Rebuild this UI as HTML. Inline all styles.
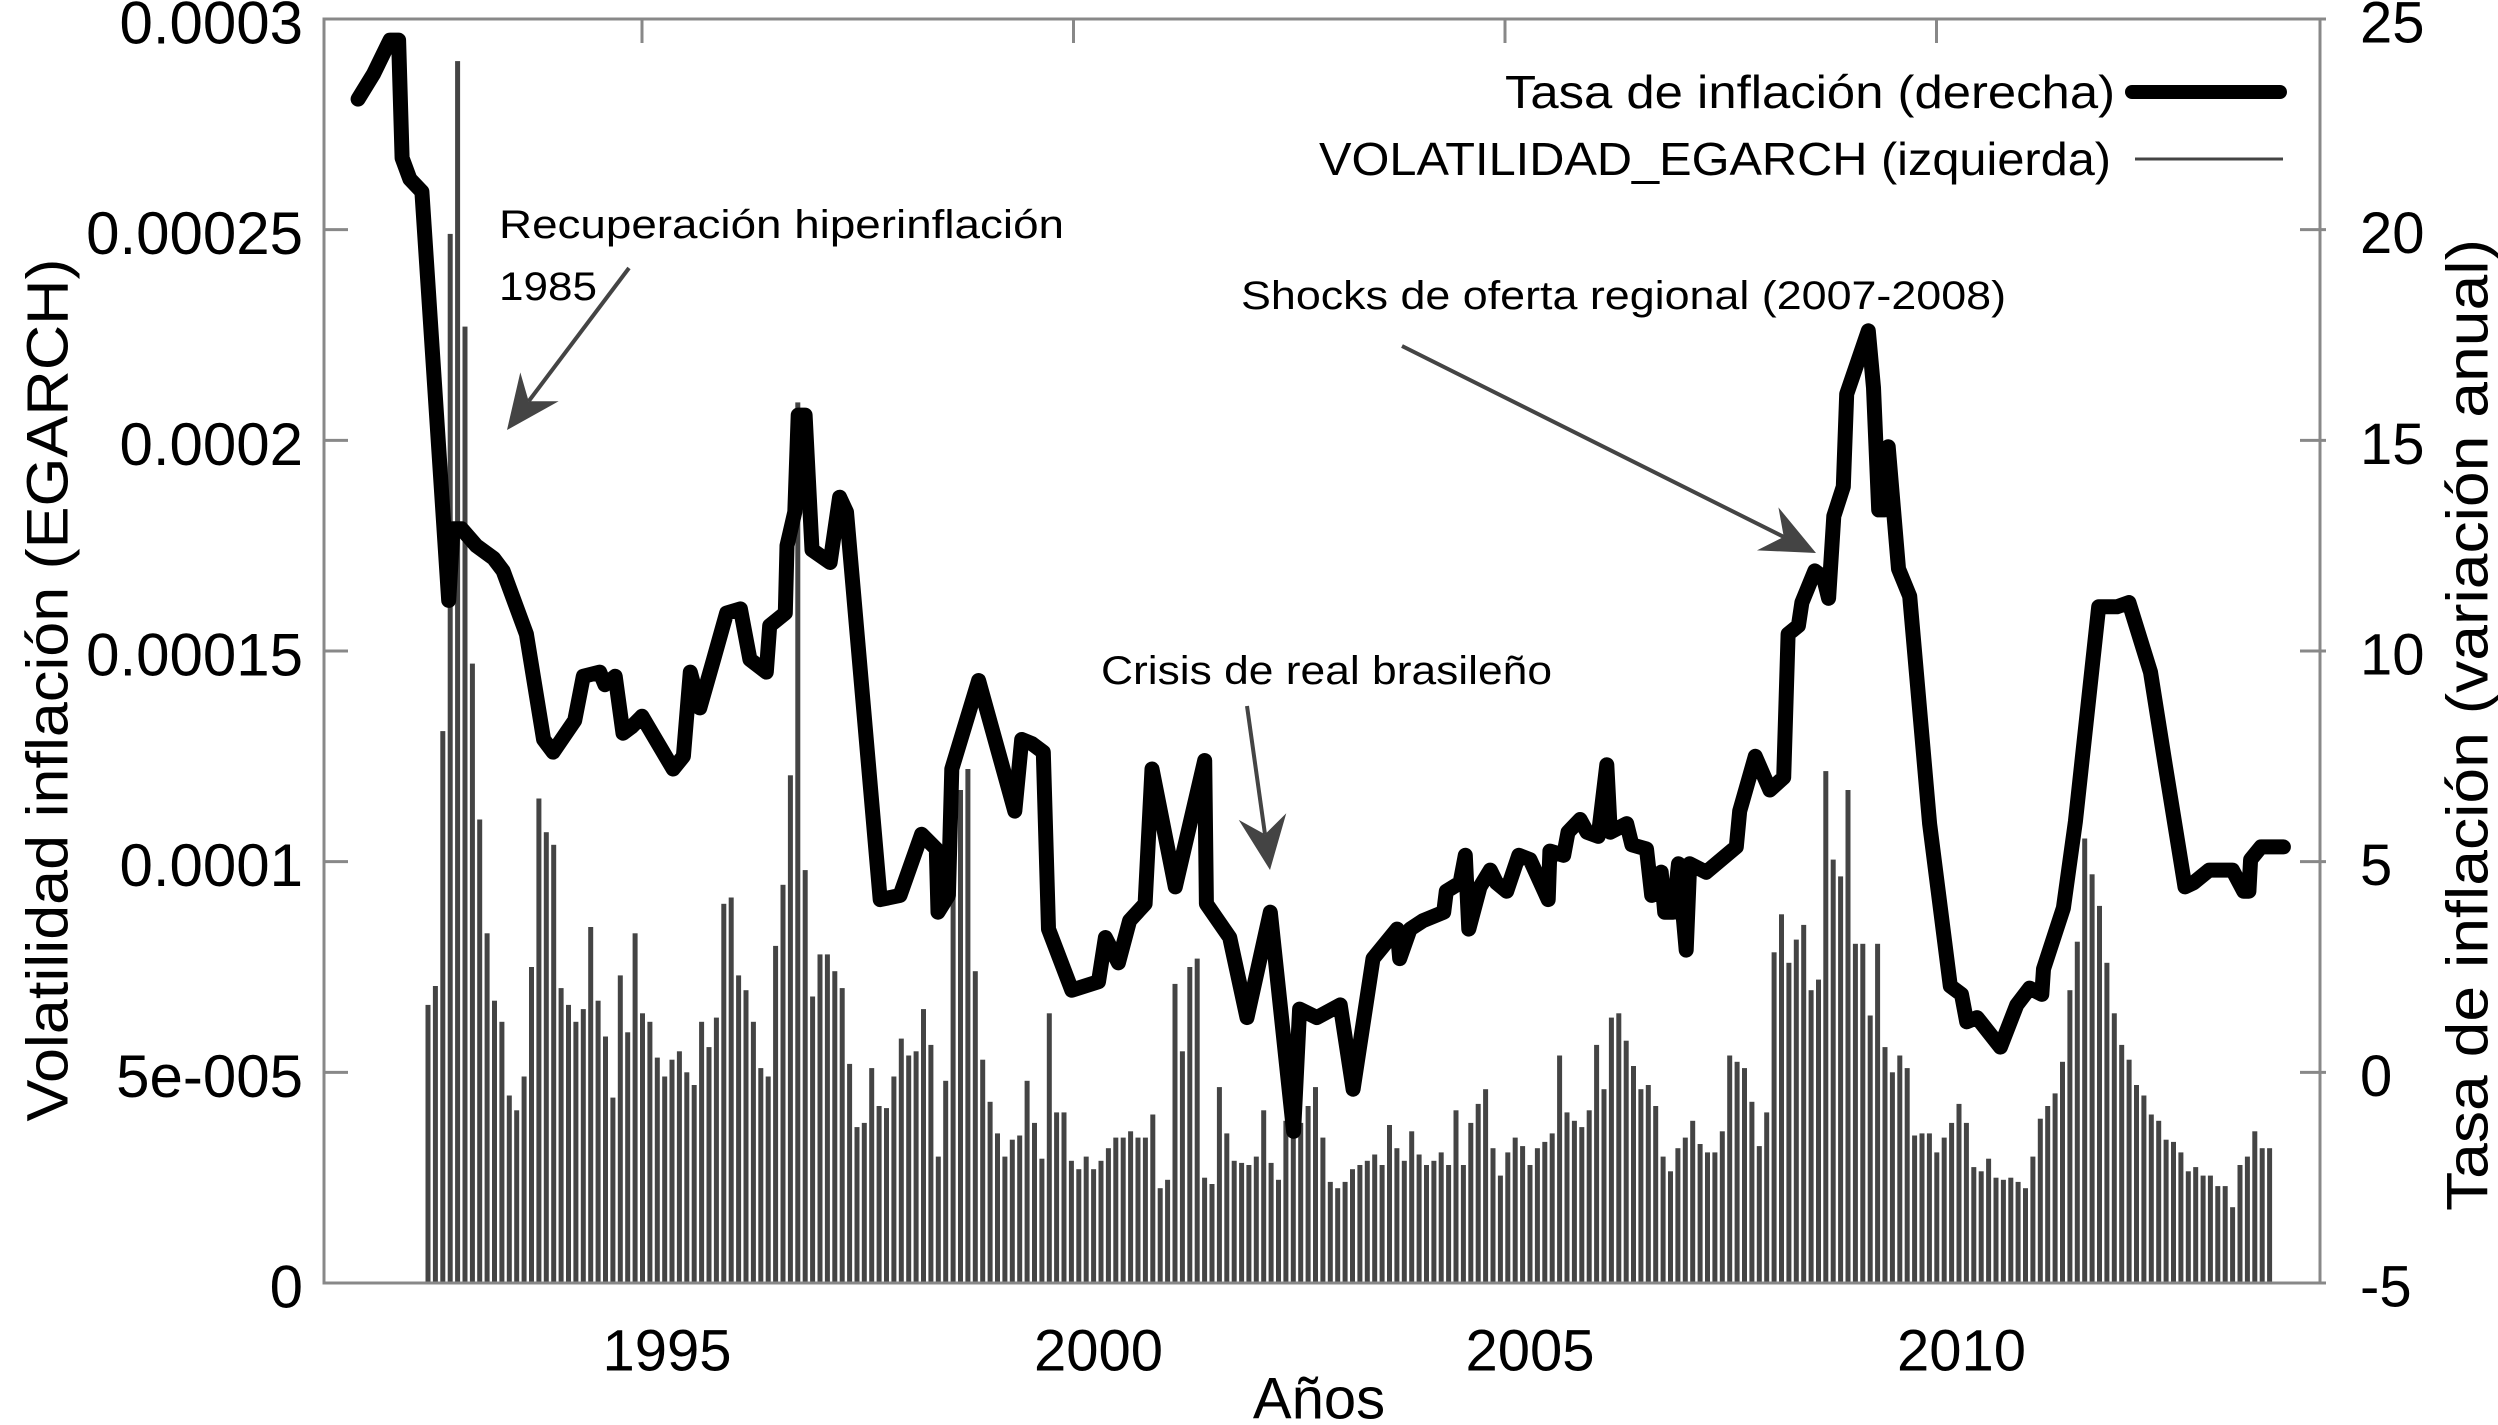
<!DOCTYPE html>
<html><head><meta charset="utf-8"><title>Volatilidad e inflación</title>
<style>
html,body{margin:0;padding:0;background:#fff;}
svg{display:block;font-family:"Liberation Sans",sans-serif;}
</style></head>
<body>
<svg id="chart" xmlns="http://www.w3.org/2000/svg" width="2498" height="1425" viewBox="0 0 2498 1425">
<rect x="0" y="0" width="2498" height="1425" fill="#fff"/>
<g id="bars"></g>
<g id="line"></g>
<g id="axes"></g>
<g id="annots"></g>
<g id="legend">
  <text x="2115" y="92" text-anchor="end" dominant-baseline="central" font-size="46" textLength="610" lengthAdjust="spacingAndGlyphs">Tasa de inflación (derecha)</text>
  <line x1="2132" y1="92" x2="2280" y2="92" stroke="#000" stroke-width="14" stroke-linecap="round"/>
  <text x="2111" y="159" text-anchor="end" dominant-baseline="central" font-size="46" textLength="792" lengthAdjust="spacingAndGlyphs">VOLATILIDAD_EGARCH (izquierda)</text>
  <line x1="2135" y1="159" x2="2283" y2="159" stroke="#444" stroke-width="3"/>
</g>
<text x="48" y="690" transform="rotate(-90 48 690)" text-anchor="middle" dominant-baseline="central" font-size="58" textLength="863" lengthAdjust="spacingAndGlyphs">Volatilidad inflación (EGARCH)</text>
<text x="2468" y="725" transform="rotate(-90 2468 725)" text-anchor="middle" dominant-baseline="central" font-size="58" textLength="972" lengthAdjust="spacingAndGlyphs">Tasa de inflación (variación anual)</text>
<text x="1319" y="1399" text-anchor="middle" dominant-baseline="central" font-size="58">Años</text>
</svg>
<script>
// ---- data ----
const volatilityE5 = [
6.6,7.05,13.1,24.9,29.0,22.7,14.7,11.0,8.3,6.7,6.2,4.45,4.1,4.9,7.5,11.5,10.7,10.4,7.0,6.6,6.2,6.5,8.45,6.7,5.85,4.4,7.3,5.95,8.3,6.4,6.2,5.35,4.9,5.3,5.5,5.0,4.7,6.2,5.6,6.3,9.0,9.15,
7.3,6.95,6.2,5.1,4.9,8.0,9.45,12.05,20.9,9.8,6.8,7.8,7.8,7.4,7.0,5.2,3.7,3.8,5.1,4.2,4.15,4.9,5.8,5.4,5.5,6.5,5.65,3.0,4.8,9.9,11.7,12.2,7.4,5.3,4.3,3.55,3.0,3.4,3.5,4.8,3.8,2.95,6.4,4.05,4.05,2.9,2.7,3.0,2.7,2.9,3.2,3.45,3.45,
3.6,3.45,3.45,4.0,2.25,2.45,7.1,5.5,7.5,7.7,2.5,2.35,4.65,3.55,2.9,2.85,2.8,3.0,4.1,2.85,2.45,3.85,3.7,3.8,4.2,4.65,3.45,2.4,2.25,2.4,2.7,2.8,2.9,3.05,2.8,3.75,3.2,2.9,3.6,3.05,2.8,2.9,3.1,2.8,4.1,2.8,3.8,4.25,4.6,3.2,2.55,3.1,3.45,3.25,
2.8,3.2,3.35,3.55,5.4,4.05,3.85,3.7,4.1,5.65,4.6,6.3,6.4,5.75,5.15,4.6,4.7,4.2,3.0,2.65,3.2,3.45,3.85,3.3,3.1,3.1,3.6,5.4,5.25,5.1,4.3,3.25,4.05,7.85,8.75,7.6,8.15,8.5,6.95,7.2,12.15,10.05,9.65,11.7,8.05,8.05,6.35,8.05,5.6,5.0,5.4,5.1,3.5,3.55,
3.55,3.1,3.45,3.8,4.25,3.8,2.75,2.65,2.95,2.5,2.45,2.5,2.4,2.25,3.0,3.9,4.2,4.5,5.25,6.95,8.1,10.55,9.7,8.95,7.6,6.4,5.65,5.3,4.7,4.45,4.0,3.85,3.4,3.35,3.1,2.65,2.75,2.55,2.55,2.3,2.3,1.8,2.8,3.0,3.6,3.2,3.2];
const barStartYear = 1992.52;
const barEndYear = 2013.86;

const inflationYears = [1991.71,1991.89,1992.08,1992.18,1992.22,1992.31,1992.45,1992.76,1992.81,1992.91,1993.08,1993.28,1993.39,1993.66,1993.86,1993.97,1994.22,1994.32,1994.51,1994.57,1994.69,1994.78,1994.88,1995.00,1995.36,1995.48,1995.56,1995.67,1995.83,1995.98,
1996.14,1996.25,1996.44,1996.48,1996.66,1996.68,1996.77,1996.81,1996.89,1996.97,1997.18,1997.29,1997.37,1997.76,1997.99,1998.24,1998.41,1998.43,1998.55,1998.59,1998.90,1999.32,1999.40,1999.52,1999.65,1999.71,1999.98,2000.29,2000.37,2000.52,2000.65,
2000.83,2000.91,2001.18,2001.52,2001.54,2001.81,2002.01,2002.28,2002.55,2002.62,2002.82,2003.09,2003.24,2003.47,2003.75,2003.78,2003.90,2004.05,2004.29,2004.32,2004.48,2004.54,2004.58,2004.71,2004.83,2004.90,2005.02,2005.16,2005.29,
2005.50,2005.52,2005.68,2005.73,2005.87,2005.95,2006.08,2006.18,2006.22,2006.41,2006.47,2006.64,2006.70,2006.81,2006.85,2006.95,2007.01,2007.10,2007.14,2007.33,2007.68,2007.72,2007.90,2008.07,2008.23,2008.28,2008.40,2008.44,2008.59,2008.69,2008.75,2008.81,2008.92,2008.96,2009.21,2009.27,2009.33,2009.40,2009.44,2009.56,2009.69,2009.92,
2010.16,2010.29,2010.35,2010.47,2010.74,2010.93,2011.08,2011.22,2011.24,2011.47,2011.61,2011.88,2012.09,2012.23,2012.48,2012.65,2012.88,2012.98,2013.16,2013.43,2013.56,2013.62,2013.64,2013.76,2014.02];
const inflationValues = [23.1,23.7,24.5,24.5,21.7,21.2,20.9,11.2,12.9,12.9,12.5,12.2,11.9,10.4,7.9,7.6,8.35,9.4,9.5,9.2,9.4,8.05,8.2,8.45,7.2,7.5,9.5,8.65,9.8,10.9,
11.0,9.8,9.5,10.6,10.9,12.5,13.3,15.6,15.6,12.4,12.1,13.65,13.3,4.1,4.2,5.65,5.3,3.8,4.2,7.2,9.3,6.2,7.9,7.8,7.6,3.4,1.95,2.15,3.2,2.6,3.6,
4.0,7.2,4.4,7.4,4.0,3.2,1.3,3.8,-1.4,1.5,1.3,1.6,-0.4,2.7,3.4,2.7,3.4,3.6,3.8,4.3,4.5,5.15,3.4,4.4,4.8,4.5,4.3,5.15,5.05,
4.1,5.25,5.15,5.7,6.0,5.7,5.6,7.3,5.7,5.9,5.4,5.3,4.2,4.75,3.8,3.8,4.95,2.9,4.95,4.75,5.35,6.2,7.5,6.7,7.0,10.4,10.6,11.15,11.9,11.75,11.25,13.2,13.9,16.1,17.6,16.25,13.35,13.35,14.85,11.95,11.3,5.9,
2.05,1.85,1.2,1.3,0.6,1.6,2.0,1.85,2.45,3.9,5.95,11.05,11.05,11.15,9.5,7.3,4.4,4.5,4.8,4.8,4.3,4.3,5.05,5.35,5.35];

const leftTickValues = [0, 0.00005, 0.0001, 0.00015, 0.0002, 0.00025, 0.0003];
const leftTickLabels = ["0","5e-005","0.0001","0.00015","0.0002","0.00025","0.0003"];
const rightTickValues = [-5, 0, 5, 10, 15, 20, 25];
const rightTickLabels = ["-5","0","5","10","15","20","25"];
const xTickYears = [1995, 2000, 2005, 2010];
const xTickLabels = ["1995","2000","2005","2010"];

// ---- scales ----
const FRAME = {left:324, right:2320, top:19, bottom:1283};
function xS(yr){ return 642 + (yr - 1995) * 86.3; }
function yL(v){ return FRAME.bottom - v / 0.0003 * (FRAME.bottom - FRAME.top); }
function yR(v){ return FRAME.bottom - (v + 5) / 30 * (FRAME.bottom - FRAME.top); }
const NS = "http://www.w3.org/2000/svg";
function mk(tag, attrs, parent){
  const el = document.createElementNS(NS, tag);
  for (const k in attrs) el.setAttribute(k, attrs[k]);
  parent.appendChild(el);
  return el;
}

// ---- bars ----
const barsG = document.getElementById('bars');
const nB = volatilityE5.length;
for (let i = 0; i < nB; i++){
  const yr = barStartYear + i * (barEndYear - barStartYear) / (nB - 1);
  const x = xS(yr);
  const top = yL(volatilityE5[i] * 1e-5);
  const r = mk('rect', {x:(x-2.5).toFixed(1), y:top.toFixed(1), width:5, height:(FRAME.bottom - top).toFixed(1), fill:'#444'}, barsG);
  
  
}

// ---- line ----
const lineG = document.getElementById('line');
let d = '';
for (let i = 0; i < inflationYears.length; i++){
  d += (i ? 'L' : 'M') + xS(inflationYears[i]).toFixed(1) + ' ' + yR(inflationValues[i]).toFixed(1);
}
const path = mk('path', {d:d, fill:'none', stroke:'#000', 'stroke-width':15, 'stroke-linejoin':'round', 'stroke-linecap':'round'}, lineG);



// ---- axes ----
const axG = document.getElementById('axes');
const frame = mk('rect', {x:FRAME.left, y:FRAME.top, width:FRAME.right-FRAME.left, height:FRAME.bottom-FRAME.top, fill:'none', stroke:'#888', 'stroke-width':3}, axG);


for (let i = 0; i < leftTickValues.length; i++){
  const y = yL(leftTickValues[i]);
  const t = mk('line', {x1:FRAME.left, y1:y, x2:FRAME.left+24, y2:y, stroke:'#888', 'stroke-width':3}, axG);
  
  
  const lb = mk('text', {x:303, y:y+4, 'text-anchor':'end', 'dominant-baseline':'central', 'font-size':60}, axG);
  lb.textContent = leftTickLabels[i];
  
  
}
for (let i = 0; i < rightTickValues.length; i++){
  const y = yR(rightTickValues[i]);
  const t = mk('line', {x1:FRAME.right-20, y1:y, x2:FRAME.right+6, y2:y, stroke:'#888', 'stroke-width':3}, axG);
  
  
  const lb = mk('text', {x:2360, y:y+4, 'text-anchor':'start', 'dominant-baseline':'central', 'font-size':58}, axG);
  lb.textContent = rightTickLabels[i];
  
  
}
for (let i = 0; i < xTickYears.length; i++){
  const x = xS(xTickYears[i]);
  const t = mk('line', {x1:x, y1:FRAME.top, x2:x, y2:FRAME.top+24, stroke:'#888', 'stroke-width':3}, axG);
  
  
  const lb = mk('text', {x:x+25, y:1351, 'text-anchor':'middle', 'dominant-baseline':'central', 'font-size':58}, axG);
  lb.textContent = xTickLabels[i];
  
  
}

// ---- annotations ----
const anG = document.getElementById('annots');
function arrow(x1, y1, x2, y2, name){
  const g = mk('g', {}, anG);
  
  
  const dx = x2 - x1, dy = y2 - y1, L = Math.hypot(dx, dy);
  const ux = dx / L, uy = dy / L, px = -uy, py = ux;
  const hl = 54, hw = 24, notch = 36;
  const bx = x2 - ux*hl, by = y2 - uy*hl;
  const nx = x2 - ux*notch, ny = y2 - uy*notch;
  mk('line', {x1:x1, y1:y1, x2:nx, y2:ny, stroke:'#444', 'stroke-width':4}, g);
  mk('path', {d:`M${x2} ${y2}L${bx+px*hw} ${by+py*hw}L${nx} ${ny}L${bx-px*hw} ${by-py*hw}Z`, fill:'#444'}, g);
}
function label(x, y, txt, len, name){
  const t = mk('text', {x:x, y:y, 'dominant-baseline':'central', 'font-size':40, textLength:len, lengthAdjust:'spacingAndGlyphs'}, anG);
  t.textContent = txt;
  
  
}
label(499, 225, 'Recuperación hiperinflación', 565, 'annotation-hyperinflation-text');
label(499, 287, '1985', 98, 'annotation-hyperinflation-year');
arrow(629, 268, 507, 430, 'annotation-hyperinflation-arrow');
label(1241, 296, 'Shocks de oferta regional (2007-2008)', 765, 'annotation-supply-shocks-text');
arrow(1402, 346, 1816, 553, 'annotation-supply-shocks-arrow');
label(1101, 671, 'Crisis de real brasileño', 451, 'annotation-brazil-crisis-text');
arrow(1247, 706, 1270, 870, 'annotation-brazil-crisis-arrow');
</script>
</body></html>
